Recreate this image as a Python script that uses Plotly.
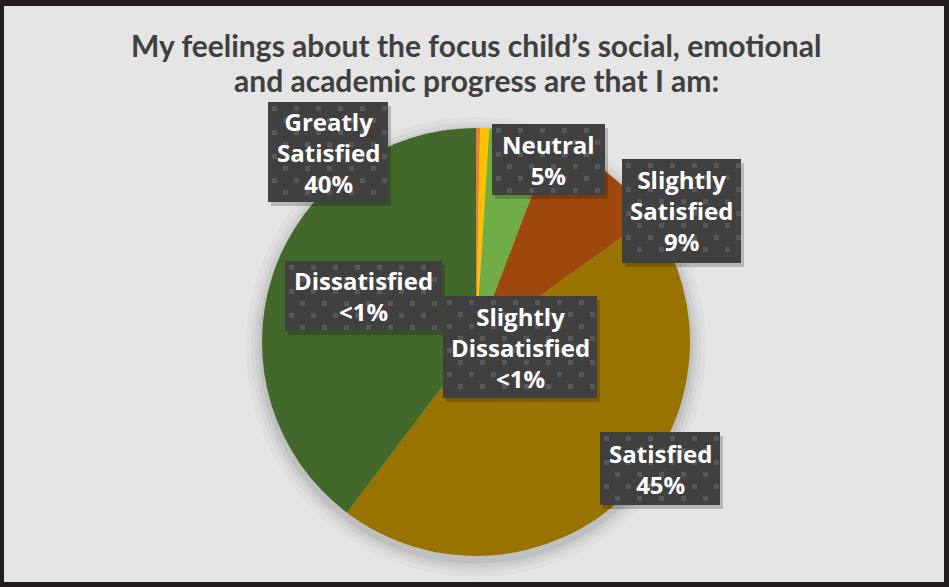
import plotly.graph_objects as go

# ---- data ----
categories = ["Dissatisfied", "Slightly Dissatisfied", "Neutral",
              "Slightly Satisfied", "Satisfied", "Greatly Satisfied"]
values = [0.3, 0.7, 4.8, 9.3, 45.2, 39.7]
colors = ["#ED7D31", "#FFC000", "#70AD47", "#9E480E", "#997300", "#43682B"]
title_lines = ["My feelings about the focus child\u2019s social, emotional",
               "and academic progress are that I am:"]

W, H = 949, 587

def pct_text(v):
    return "<1%" if v < 1 else f"{round(v)}%"

fig = go.Figure()

# pie geometry (pixels)
cx, cy, r = 476, 342, 214
fig.add_trace(go.Pie(
    labels=categories, values=values, sort=False, direction="clockwise",
    rotation=0, marker=dict(colors=colors, line=dict(width=0)),
    textinfo="none", hoverinfo="label+percent", showlegend=False,
    domain=dict(x=[(cx - r) / W, (cx + r) / W],
                y=[1 - (cy + r) / H, 1 - (cy - r) / H]),
))

# label boxes: (x0, y0, x1, y1) in pixels from top-left
boxes = {
    "Greatly Satisfied": (268, 102, 388, 202),
    "Neutral": (492, 124, 605, 195),
    "Slightly Satisfied": (622, 159, 741, 263),
    "Dissatisfied": (285, 261, 442, 331),
    "Slightly Dissatisfied": (443, 296, 597, 398),
    "Satisfied": (600, 432, 720, 505),
}
order = ["Greatly Satisfied", "Neutral", "Slightly Satisfied", "Satisfied",
         "Dissatisfied", "Slightly Dissatisfied"]

def px_rect(x0, y0, x1, y1, **kw):
    return dict(type="rect", xref="paper", yref="paper",
                x0=x0 / W, x1=x1 / W, y0=1 - y1 / H, y1=1 - y0 / H, **kw)

annotations = []
shapes = [px_rect(4, 6, W - 5, H - 5, fillcolor="#e5e5e5",
                  line=dict(width=0), layer="below")]
# soft shadow around pie
for dr, op in [(16, 0.025), (11, 0.035), (7, 0.045), (3, 0.06)]:
    shapes.append(dict(type="circle", xref="paper", yref="paper",
                       x0=(cx - r - dr) / W, x1=(cx + r + dr) / W,
                       y0=1 - (cy + r + dr + 5) / H, y1=1 - (cy - r - dr + 5) / H,
                       fillcolor=f"rgba(0,0,0,{op})", line=dict(width=0),
                       layer="below"))

for name in order:
    i = categories.index(name)
    x0, y0, x1, y1 = boxes[name]
    # drop shadow
    shapes.append(px_rect(x0 + 3, y0 + 4, x1 + 3, y1 + 4,
                          fillcolor="rgba(0,0,0,0.20)", line=dict(width=0),
                          layer="above"))
    # box
    shapes.append(px_rect(x0, y0, x1, y1, fillcolor="#404040",
                          line=dict(width=0), layer="above"))
    # dotted pattern
    row = 0
    yy = y0 + 4
    while yy + 5 <= y1:
        xx = x0 + 4 + (11 if row % 2 else 0)
        while xx + 5 <= x1:
            shapes.append(px_rect(xx, yy, xx + 5, yy + 5, fillcolor="#585858",
                                  line=dict(width=0), layer="above"))
            xx += 22
        yy += 12
        row += 1
    words = name.split(" ")
    text = "<br>".join(words + [pct_text(values[i])])
    annotations.append(dict(
        text=f"<b>{text}</b>", xref="paper", yref="paper",
        x=(x0 + x1) / 2 / W, y=1 - (y0 + y1) / 2 / H,
        xanchor="center", yanchor="middle", showarrow=False,
        align="center", valign="middle",
        font=dict(family="Open Sans", size=24, color="white"),
    ))

for k, (line, ypx) in enumerate(zip(title_lines, [45, 80])):
    annotations.append(dict(
        text=f"<b>{line}</b>", xref="paper", yref="paper",
        x=476 / W, y=1 - ypx / H, xanchor="center", yanchor="middle",
        showarrow=False, align="center",
        font=dict(family="Lato", size=30, color="#404040"),
    ))

fig.update_layout(
    width=W, height=H, margin=dict(l=0, r=0, t=0, b=0),
    paper_bgcolor="#231f20", plot_bgcolor="#e5e5e5",
    shapes=shapes, annotations=annotations,
)
fig.write_html("out.html")
